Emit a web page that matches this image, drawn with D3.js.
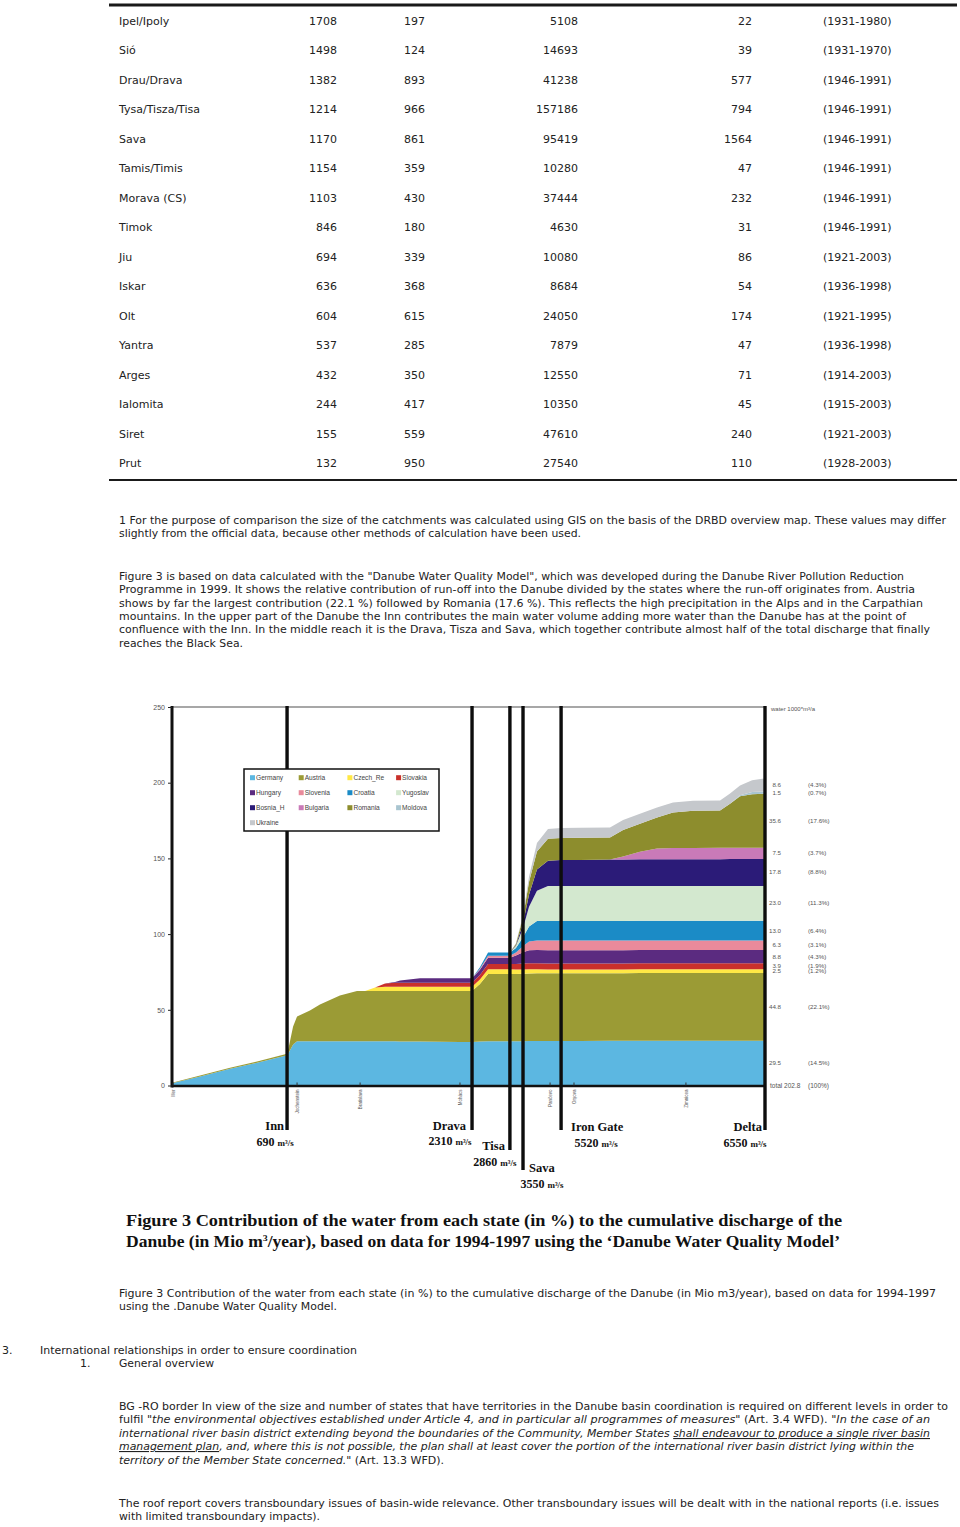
<!DOCTYPE html>
<html>
<head>
<meta charset="utf-8">
<script src="https://cdn.jsdelivr.net/npm/d3@7"></script>
<style>
  body { margin: 0; background: #fff; }
  svg text { font-family: "DejaVu Sans", Verdana, sans-serif; fill: #222; }
  .tbl { font-size: 11px; }
  .doc { font-size: 11px; }
  .tiny { font-family: "Liberation Sans", Arial, sans-serif; fill: #555; }
  .serif { font-family: "Liberation Serif", "Times New Roman", serif; font-weight: bold; fill: #111; }
</style>
</head>
<body>
<svg id="page" width="960" height="1527"></svg>
<script>
// ---- table of tributaries ----
const rivers = ["Ipel/Ipoly","Sió","Drau/Drava","Tysa/Tisza/Tisa","Sava","Tamis/Timis","Morava (CS)","Timok","Jiu","Iskar","Olt","Yantra","Arges","Ialomita","Siret","Prut"];
const mouthKm = [1708,1498,1382,1214,1170,1154,1103,846,694,636,604,537,432,244,155,132];
const lengthKm = [197,124,893,966,861,359,430,180,339,368,615,285,350,417,559,950];
const catchment = [5108,14693,41238,157186,95419,10280,37444,4630,10080,8684,24050,7879,12550,10350,47610,27540];
const discharge = [22,39,577,794,1564,47,232,31,86,54,174,47,71,45,240,110];
const period = ["(1931-1980)","(1931-1970)","(1946-1991)","(1946-1991)","(1946-1991)","(1946-1991)","(1946-1991)","(1946-1991)","(1921-2003)","(1936-1998)","(1921-1995)","(1936-1998)","(1914-2003)","(1915-2003)","(1921-2003)","(1928-2003)"];

// ---- figure 3: cumulative discharge by state along the Danube ----
const states = ["Germany","Austria","Czech_Re","Slovakia","Hungary","Slovenia","Croatia","Yugoslav","Bosnia_H","Bulgaria","Romania","Moldova","Ukraine"];
const stateColors = ["#5cb7e1","#9b9b35","#ffe845","#c9302b","#5b2b80","#e98a9b","#1b8bc6","#d3e8cf","#2b1b78","#c97ab8","#8d8d2d","#a9c5d0","#c5c8cc"];
const pctLabels = ["(14.5%)","(22.1%)","(1.2%)","(1.9%)","(4.3%)","(3.1%)","(6.4%)","(11.3%)","(8.8%)","(3.7%)","(17.6%)","(0.7%)","(4.3%)"];

const riverKm = [2850,2715,2571,2427,2297,2288,2268,2249,2187,2139,2043,1961,1922,1874,1826,1778,1754,1658,1562,1466,1408,1370,1331,1226,1197,1163,1134,1096,1043,980,889,745,682,601,519,442,346,216,168,120,62,0];
const germany  = [1.5,6.0,11.0,15.5,20.0,22.0,27.0,29.2,29.3,29.3,29.3,29.3,29.3,29.3,29.2,29.2,29.1,29.0,28.9,28.8,28.8,29.0,29.3,29.3,29.3,29.3,29.4,29.4,29.4,29.4,29.4,29.5,29.5,29.5,29.5,29.5,29.5,29.5,29.5,29.5,29.5,29.5];
const austria  = [0.3,0.6,0.8,0.8,1.0,4.0,12.0,16.3,20.2,24.2,30.2,33.2,33.2,33.2,33.3,33.3,33.4,33.5,33.6,33.7,33.7,38.0,44.4,44.4,44.4,44.5,44.6,44.7,44.7,44.7,44.7,44.7,44.7,44.8,44.8,44.8,44.8,44.8,44.8,44.8,44.8,44.8];
const czech    = [0,0,0,0,0,0,0,0,0,0,0,0,0,2.2,2.8,2.8,2.8,2.8,2.8,2.8,2.8,3.0,3.1,3.1,3.0,2.9,2.8,2.7,2.6,2.6,2.6,2.5,2.5,2.5,2.5,2.5,2.5,2.5,2.5,2.5,2.5,2.5];
const slovakia = [0,0,0,0,0,0,0,0,0,0,0,0,0,0,2.0,2.6,2.6,2.6,2.6,2.6,2.6,3.0,3.4,3.4,3.6,3.8,3.9,3.9,3.9,3.9,3.9,3.9,3.9,3.9,3.9,3.9,3.9,3.9,3.9,3.9,3.9,3.9];
const hungary  = [0,0,0,0,0,0,0,0,0,0,0,0,0,0,0,0.5,1.5,3.0,3.0,3.0,3.0,3.5,4.2,4.2,5.5,7.5,8.6,8.8,8.8,8.8,8.8,8.8,8.8,8.8,8.8,8.8,8.8,8.8,8.8,8.8,8.8,8.8];
const slovenia = [0,0,0,0,0,0,0,0,0,0,0,0,0,0,0,0,0,0,0,0,0,0.6,1.3,1.3,2.0,4.0,5.8,6.3,6.3,6.3,6.3,6.3,6.3,6.3,6.3,6.3,6.3,6.3,6.3,6.3,6.3,6.3];
const croatia  = [0,0,0,0,0,0,0,0,0,0,0,0,0,0,0,0,0,0,0,0,0,1.0,2.1,2.1,3.0,6.0,10.0,12.8,13.0,13.0,13.0,13.0,13.0,13.0,13.0,13.0,13.0,13.0,13.0,13.0,13.0,13.0];
const yugoslav = [0,0,0,0,0,0,0,0,0,0,0,0,0,0,0,0,0,0,0,0,0,0,0,0,1.5,6.0,13.0,20.0,23.0,23.0,23.0,23.0,23.0,23.0,23.0,23.0,23.0,23.0,23.0,23.0,23.0,23.0];
const bosnia   = [0,0,0,0,0,0,0,0,0,0,0,0,0,0,0,0,0,0,0,0,0,0,0,0,0.5,3.0,8.0,14.0,16.8,17.2,17.3,17.5,17.5,17.6,17.6,17.6,17.6,17.7,17.8,17.8,17.8,17.8];
const bulgaria = [0,0,0,0,0,0,0,0,0,0,0,0,0,0,0,0,0,0,0,0,0,0,0,0,0,0,0,0,0,0,0,0,2.0,5.0,7.2,7.5,7.5,7.5,7.5,7.5,7.5,7.5];
const romania  = [0,0,0,0,0,0,0,0,0,0,0,0,0,0,0,0,0,0,0,0,0,0,0,0,0.8,4.0,8.5,12.0,14.5,14.6,14.6,14.6,17.5,18.5,20.4,23.4,24.5,24.7,29.0,34.0,35.2,35.6];
const moldova  = [0,0,0,0,0,0,0,0,0,0,0,0,0,0,0,0,0,0,0,0,0,0,0,0,0,0,0,0,0,0,0,0,0,0,0,0,0,0,0,0.6,1.5,1.5];
const ukraine  = [0,0,0,0,0,0,0,0,0,0,0,0,0,0,0,0,0,0,0,0,0,0,0,0,0.4,1.5,3.5,5.5,6.5,6.6,6.6,6.6,6.6,6.6,6.6,6.6,6.6,6.6,6.7,6.5,7.8,8.6];
const series = [germany,austria,czech,slovakia,hungary,slovenia,croatia,yugoslav,bosnia,bulgaria,romania,moldova,ukraine];

const yTicks = [0,50,100,150,200,250];
const confluences = ["Inn","Drava","Tisa","Sava","Iron Gate","Delta"];
const confluenceKm = [2297,1408,1226,1163,980,0];
const confluenceQ = [690,2310,2860,3550,5520,6550];
const stationKm = [2845,2249,1946,1466,1033,918,380];
const stationNames = ["Iller","Jochenstein","Bratislava","Mohács","Pančevo","Orşova","Zimnicea"];

const svg = d3.select("#page");

// ---------- helpers ----------
function line(x, y, parts, len, cls) {
  const t = svg.append("text").attr("class", cls || "doc").attr("x", x).attr("y", y);
  parts.forEach(p => {
    const s = t.append("tspan").text(p[0]);
    const st = p[1] || "";
    if (st.includes("i")) s.attr("font-style", "italic");
    if (st.includes("u")) s.style("text-decoration", "underline");
  });
  if (len) t.attr("textLength", len).attr("lengthAdjust", "spacingAndGlyphs");
  return t;
}

// ---------- table ----------
svg.append("line").attr("x1", 109).attr("x2", 957).attr("y1", 5).attr("y2", 5)
  .attr("stroke", "#1a1a1a").attr("stroke-width", 3);
const rowY = i => 25 + i * 29.47;
rivers.forEach((r, i) => {
  const g = svg.append("g").attr("class", "tbl");
  g.append("text").attr("x", 119).attr("y", rowY(i)).text(r);
  g.append("text").attr("x", 337).attr("y", rowY(i)).attr("text-anchor", "end").text(mouthKm[i]);
  g.append("text").attr("x", 404).attr("y", rowY(i)).text(lengthKm[i]);
  g.append("text").attr("x", 578).attr("y", rowY(i)).attr("text-anchor", "end").text(catchment[i]);
  g.append("text").attr("x", 752).attr("y", rowY(i)).attr("text-anchor", "end").text(discharge[i]);
  g.append("text").attr("x", 823).attr("y", rowY(i)).text(period[i]);
});
svg.append("line").attr("x1", 109).attr("x2", 957).attr("y1", 480).attr("y2", 480)
  .attr("stroke", "#1a1a1a").attr("stroke-width", 2);

// ---------- paragraphs ----------
line(119, 524, [["1 For the purpose of comparison the size of the catchments was calculated using GIS on the basis of the DRBD overview map. These values may differ"]], 827);
line(119, 537, [["slightly from the official data, because other methods of calculation have been used."]], 462);

line(119, 580, [["Figure 3 is based on data calculated with the \"Danube Water Quality Model\", which was developed during the Danube River Pollution Reduction"]], 785);
line(119, 593, [["Programme in 1999. It shows the relative contribution of run-off into the Danube divided by the states where the run-off originates from. Austria"]], 796);
line(119, 607, [["shows by far the largest contribution (22.1 %) followed by Romania (17.6 %). This reflects the high precipitation in the Alps and in the Carpathian"]], 804);
line(119, 620, [["mountains. In the upper part of the Danube the Inn contributes the main water volume adding more water than the Danube has at the point of"]], 787);
line(119, 633, [["confluence with the Inn. In the middle reach it is the Drava, Tisza and Sava, which together contribute almost half of the total discharge that finally"]], 811);
line(119, 647, [["reaches the Black Sea."]], 124);

// ---------- chart ----------
const x = d3.scaleLinear().domain([2850, 0]).range([172, 765]);
const y = d3.scaleLinear().domain([0, 250]).range([1085.5, 707]);

const rows = riverKm.map((km, i) => {
  const r = { km };
  states.forEach((s, j) => { r[s] = series[j][i]; });
  return r;
});
const stacked = d3.stack().keys(states)(rows);
const area = d3.area().x(d => x(d.data.km)).y0(d => y(d[0])).y1(d => y(d[1]));

const chart = svg.append("g");
chart.selectAll("path.layer").data(stacked).join("path")
  .attr("class", "layer")
  .attr("d", area)
  .attr("fill", (d, i) => stateColors[i]);

// frame
chart.append("line").attr("x1", x(2850)).attr("x2", x(0)).attr("y1", y(250)).attr("y2", y(250))
  .attr("stroke", "#8a8a8a").attr("stroke-width", 1.6);
chart.append("line").attr("x1", x(2850)).attr("x2", x(0)).attr("y1", y(0) + 0.5).attr("y2", y(0) + 0.5)
  .attr("stroke", "#111").attr("stroke-width", 2.4);
chart.append("line").attr("x1", x(2850)).attr("x2", x(2850)).attr("y1", y(250) - 1).attr("y2", y(0) + 2)
  .attr("stroke", "#111").attr("stroke-width", 3);

// y axis ticks
const yAxis = d3.axisLeft(y).tickValues(yTicks).tickSize(4).tickPadding(3);
const ya = chart.append("g").attr("transform", `translate(${x(2850)},0)`).call(yAxis);
ya.select(".domain").remove();
ya.selectAll("line").attr("stroke", "#222");
ya.selectAll("text").attr("class", "tiny").style("font-size", "7px").attr("fill", "#555");

// station ticks and tiny rotated names
stationKm.forEach((k, i) => {
  chart.append("line").attr("x1", x(k)).attr("x2", x(k)).attr("y1", y(0) - 3).attr("y2", y(0))
    .attr("stroke", "#333").attr("stroke-width", 1);
  chart.append("text").attr("class", "tiny")
    .attr("transform", `translate(${x(k) + 2},${y(0) + 4}) rotate(-90)`)
    .attr("text-anchor", "end").style("font-size", "4.5px").text(stationNames[i]);
});

// confluence bars
const barBottom = [1130, 1130, 1150, 1170, 1130, 1130];
confluences.forEach((c, i) => {
  chart.append("line").attr("x1", x(confluenceKm[i])).attr("x2", x(confluenceKm[i]))
    .attr("y1", y(250) - 1).attr("y2", barBottom[i])
    .attr("stroke", "#0d0d0d").attr("stroke-width", 3.4);
});

// confluence labels
const labelPos = [
  { nx: -3, na: "end", ny: 1130, qx: -12, qy: 1146 },
  { nx: -6, na: "end", ny: 1130, qx: -22, qy: 1145 },
  { nx: -5, na: "end", ny: 1150, qx: -15, qy: 1166 },
  { nx: 6, na: "start", ny: 1172, qx: 19, qy: 1188 },
  { nx: 10, na: "start", ny: 1131, qx: 35, qy: 1147 },
  { nx: -3, na: "end", ny: 1131, qx: -20, qy: 1147 }
];
confluences.forEach((c, i) => {
  const cx = x(confluenceKm[i]);
  const p = labelPos[i];
  chart.append("text").attr("class", "serif").style("font-size", "12.5px")
    .attr("x", cx + p.nx).attr("y", p.ny).attr("text-anchor", p.na).text(c);
  const q = chart.append("text").attr("class", "serif").style("font-size", "12px")
    .attr("x", cx + p.qx).attr("y", p.qy).attr("text-anchor", "middle");
  q.append("tspan").text(confluenceQ[i] + " ");
  q.append("tspan").style("font-size", "9px").text("m³/s");
});

// right side labels
const last = stacked.map(s => s[s.length - 1]);
const total = d3.sum(series, s => s[s.length - 1]);
chart.append("text").attr("class", "tiny").style("font-size", "6px")
  .attr("x", x(0) + 6).attr("y", y(250) + 4).text("water 1000*m³/a");
last.forEach((d, i) => {
  const ym = y((d[0] + d[1]) / 2) + 2;
  chart.append("text").attr("class", "tiny").style("font-size", "6.2px")
    .attr("x", x(0) + 16).attr("y", ym).attr("text-anchor", "end").text(d3.format(".1f")(d[1] - d[0]));
  chart.append("text").attr("class", "tiny").style("font-size", "6.2px")
    .attr("x", x(0) + 43).attr("y", ym).text(pctLabels[i]);
});
chart.append("text").attr("class", "tiny").style("font-size", "6.5px")
  .attr("x", x(0) + 5).attr("y", y(0) + 2).text("total  " + d3.format(".1f")(total));
chart.append("text").attr("class", "tiny").style("font-size", "6.5px")
  .attr("x", x(0) + 43).attr("y", y(0) + 2).text("(100%)");

// legend
const lg = chart.append("g").attr("transform", "translate(244,769)");
lg.append("rect").attr("width", 195).attr("height", 62).attr("fill", "#fff")
  .attr("stroke", "#111").attr("stroke-width", 1.5);
states.forEach((s, i) => {
  const c = i % 4, r = Math.floor(i / 4);
  const gx = 6 + c * 48.7, gy = 8.7 + r * 15;
  lg.append("rect").attr("x", gx).attr("y", gy - 2.5).attr("width", 5).attr("height", 5).attr("fill", stateColors[i]);
  lg.append("text").attr("class", "tiny").style("font-size", "6.6px").style("fill", "#444")
    .attr("x", gx + 6).attr("y", gy + 2.2).text(s);
});

// ---------- captions ----------
line(126, 1226, [["Figure 3  Contribution of the water from each state (in %) to the cumulative discharge of the"]], 716, "serif").style("font-size", "16px");
const cap2 = svg.append("text").attr("class", "serif").style("font-size", "16px").attr("x", 126).attr("y", 1247)
  .attr("textLength", 714).attr("lengthAdjust", "spacingAndGlyphs");
cap2.append("tspan").text("Danube (in Mio m");
cap2.append("tspan").attr("dy", -6).style("font-size", "9px").text("3");
cap2.append("tspan").attr("dy", 6).text("/year), based on data for 1994-1997 using the ‘Danube Water Quality Model’");

line(119, 1297, [["Figure 3 Contribution of the water from each state (in %) to the cumulative discharge of the Danube (in Mio m3/year), based on data for 1994-1997"]], 817);
line(119, 1310, [["using the .Danube Water Quality Model."]], 218);

// ---------- section 3 ----------
line(2, 1354, [["3."]]);
line(40, 1354, [["International relationships in order to ensure coordination"]], 317);
line(80, 1367, [["1."]]);
line(119, 1367, [["General overview"]], 95);

line(119, 1410, [["BG -RO border In view of the size and number of states that have territories in the Danube basin coordination is required on different levels in order to"]], 829);
line(119, 1423, [["fulfil \""], ["the environmental objectives established under Article 4, and in particular all programmes of measures", "i"], ["\" (Art. 3.4 WFD). \""], ["In the case of an", "i"]], 811);
line(119, 1437, [["international river basin district extending beyond the boundaries of the Community, Member States ", "i"], ["shall endeavour to produce a single river basin", "iu"]], 811);
line(119, 1450, [["management plan", "iu"], [", and, where this is not possible, the plan shall at least cover the portion of the international river basin district lying within the", "i"]], 795);
line(119, 1464, [["territory of the Member State concerned.", "i"], ["\" (Art. 13.3 WFD)."]], 325);

line(119, 1507, [["The roof report covers transboundary issues of basin-wide relevance. Other transboundary issues will be dealt with in the national reports (i.e. issues"]], 820);
line(119, 1520, [["with limited transboundary impacts)."]], 201);
</script>
</body>
</html>
